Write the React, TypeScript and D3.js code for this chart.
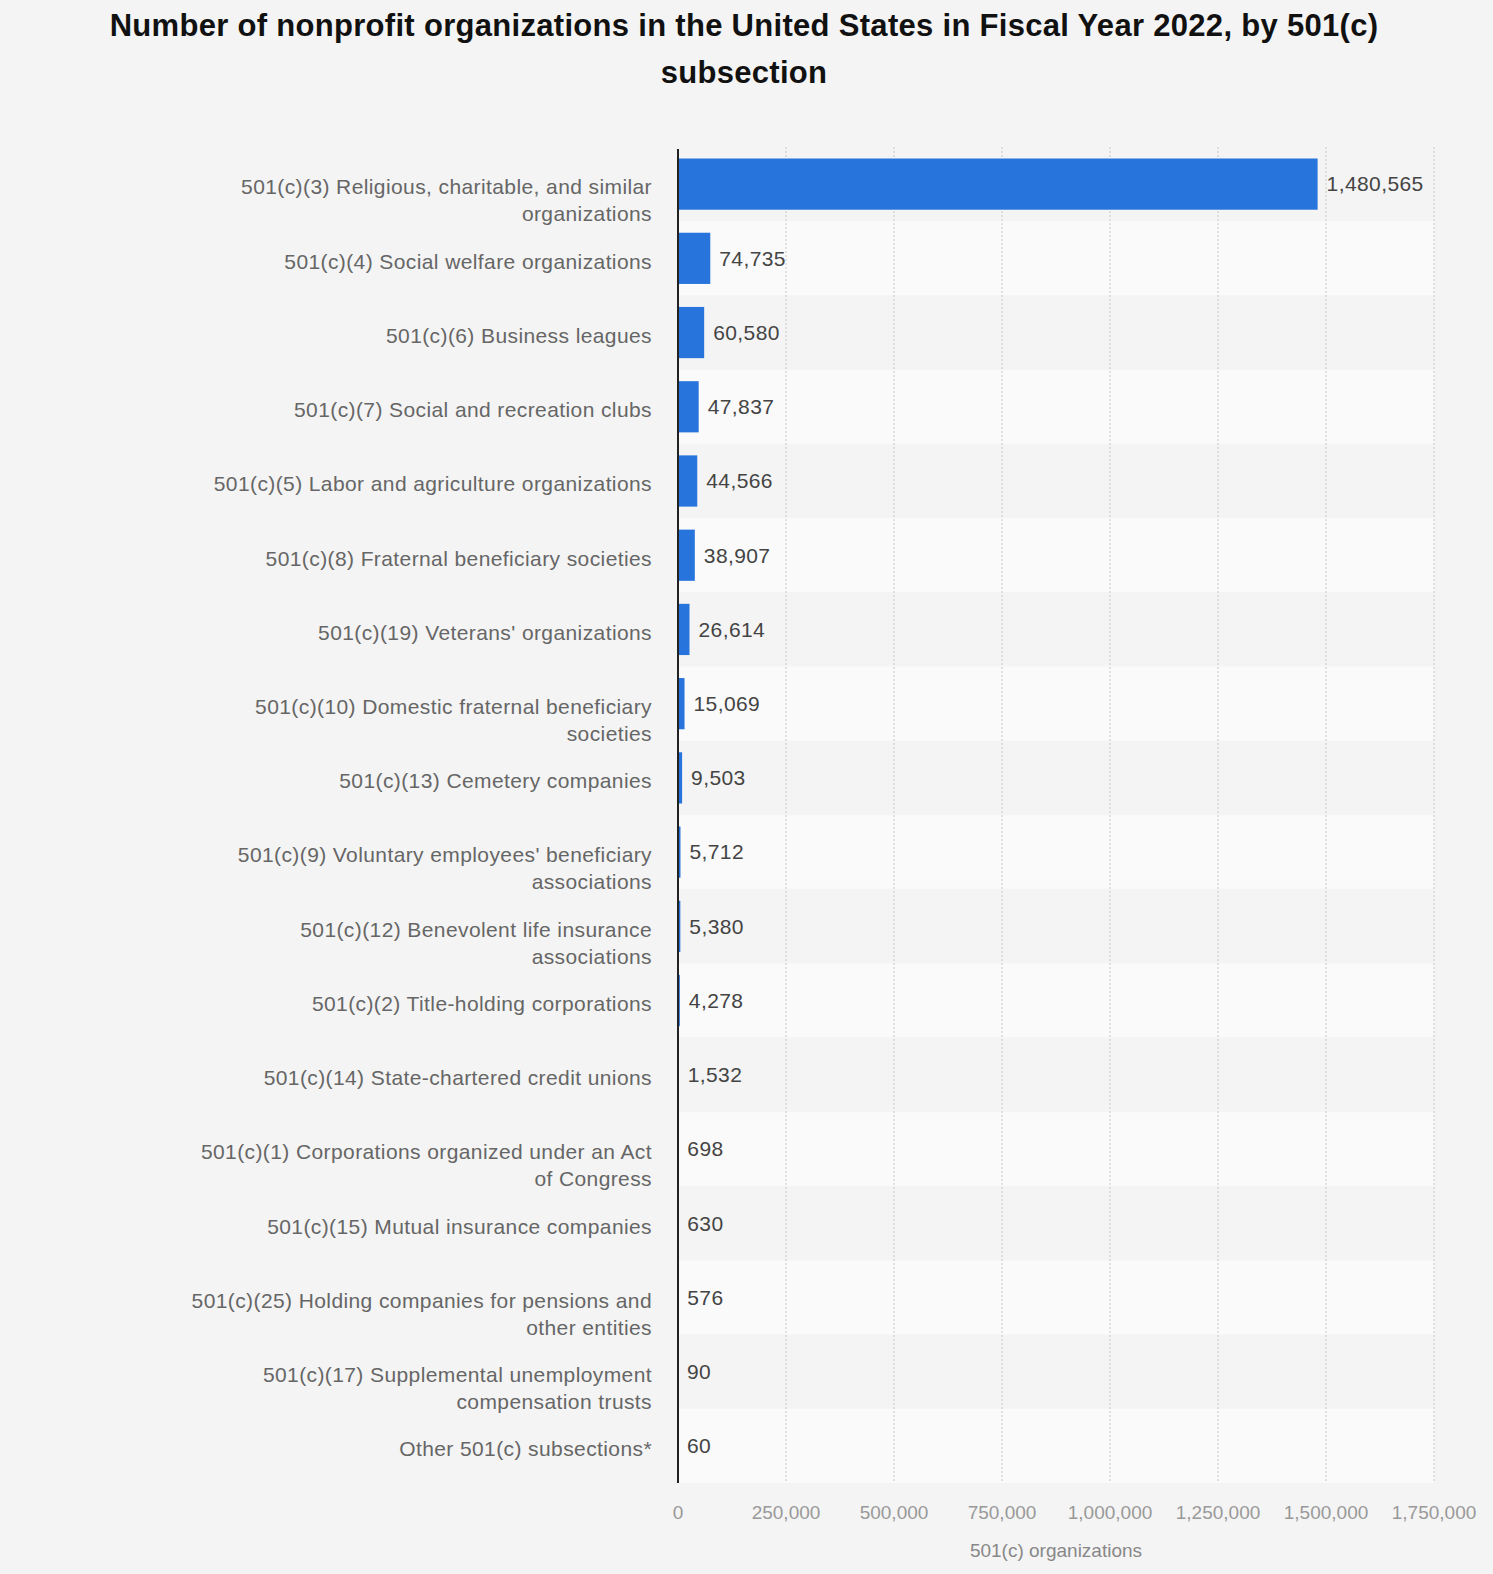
import React from "react";
import * as d3 from "d3";

const categories = [
  "501(c)(3) Religious, charitable, and similar organizations",
  "501(c)(4) Social welfare organizations",
  "501(c)(6) Business leagues",
  "501(c)(7) Social and recreation clubs",
  "501(c)(5) Labor and agriculture organizations",
  "501(c)(8) Fraternal beneficiary societies",
  "501(c)(19) Veterans' organizations",
  "501(c)(10) Domestic fraternal beneficiary societies",
  "501(c)(13) Cemetery companies",
  "501(c)(9) Voluntary employees' beneficiary associations",
  "501(c)(12) Benevolent life insurance associations",
  "501(c)(2) Title-holding corporations",
  "501(c)(14) State-chartered credit unions",
  "501(c)(1) Corporations organized under an Act of Congress",
  "501(c)(15) Mutual insurance companies",
  "501(c)(25) Holding companies for pensions and other entities",
  "501(c)(17) Supplemental unemployment compensation trusts",
  "Other 501(c) subsections*",
];

const organizations = [
  1480565, 74735, 60580, 47837, 44566, 38907, 26614, 15069, 9503, 5712, 5380,
  4278, 1532, 698, 630, 576, 90, 60,
];

const xTicks = [0, 250000, 500000, 750000, 1000000, 1250000, 1500000, 1750000];

const titleLines = [
  "Number of nonprofit organizations in the United States in Fiscal Year 2022, by 501(c)",
  "subsection",
];
const axisTitle = "501(c) organizations";

const W = 1493;
const H = 1574;
const FONT = "'Liberation Sans', Arial, sans-serif";
const LABEL_SIZE = 21;
const LABEL_LS = 0.4;
const LABEL_MAX = 468;

// break a label into lines no wider than LABEL_MAX
function wrap(text: string): string[] {
  const ctx = document.createElement("canvas").getContext("2d")!;
  ctx.font = `${LABEL_SIZE}px 'Liberation Sans'`;
  const width = (s: string) => ctx.measureText(s).width + s.length * LABEL_LS;
  const words = text.split(" ");
  const lines: string[] = [];
  let cur = "";
  words.forEach((w) => {
    const test = cur ? cur + " " + w : w;
    if (width(test) > LABEL_MAX && cur) {
      lines.push(cur);
      cur = w;
    } else {
      cur = test;
    }
  });
  if (cur) lines.push(cur);
  return lines;
}

export default function App() {
  const x = d3.scaleLinear().domain([0, 1750000]).range([678, 1434]);
  const y = d3
    .scaleBand<string>()
    .domain(categories)
    .range([147, 1483])
    .paddingInner(0.31)
    .paddingOuter(0.155);
  const step = y.step();
  const fmt = d3.format(",");

  return (
    <div style={{ position: "absolute", left: 0, top: 0 }}>
      <svg width={W} height={H} style={{ display: "block" }} fontFamily={FONT}>
        <rect width={W} height={H} fill="#f4f4f4" />

        {titleLines.map((t, i) => (
          <text
            key={i}
            x={744}
            y={25 + i * 47}
            dy="0.35em"
            textAnchor="middle"
            fontSize={31}
            fontWeight="bold"
            letterSpacing={0.3}
            fill="#111"
          >
            {t}
          </text>
        ))}

        {/* stripes */}
        {categories.map((c, i) => (
          <rect
            key={c}
            x={x(0)}
            y={y(c)! - (step * 0.31) / 2}
            width={x(1750000) - x(0)}
            height={step}
            fill={i % 2 ? "#fafafa" : "#f4f4f4"}
          />
        ))}

        {/* grid */}
        {xTicks.slice(1).map((t) => (
          <line
            key={t}
            x1={x(t)}
            x2={x(t)}
            y1={147}
            y2={1483}
            stroke="#c8c8c8"
            strokeDasharray="2,2"
          />
        ))}

        {/* bars */}
        {categories.map((c, i) => (
          <rect
            key={c}
            x={x(0)}
            y={y(c)}
            width={x(organizations[i]) - x(0)}
            height={y.bandwidth()}
            fill="#2774dc"
          />
        ))}

        {/* value labels */}
        {categories.map((c, i) => (
          <text
            key={c}
            x={x(organizations[i]) + 9}
            y={y(c)! + y.bandwidth() / 2}
            dy="0.35em"
            fontSize={21}
            letterSpacing={0.4}
            fill="#444"
          >
            {fmt(organizations[i])}
          </text>
        ))}

        {/* category labels */}
        {categories.map((c) => (
          <text
            key={c}
            x={652}
            y={y(c)! + y.bandwidth() / 2 + 3}
            textAnchor="end"
            fontSize={LABEL_SIZE}
            letterSpacing={LABEL_LS}
            fill="#666"
          >
            {wrap(c).map((l, j) => (
              <tspan key={j} x={652} dy={j === 0 ? "0.35em" : 27}>
                {l}
              </tspan>
            ))}
          </text>
        ))}

        <line x1={x(0)} x2={x(0)} y1={149} y2={1483} stroke="#222" strokeWidth={2} />

        {/* x axis */}
        {xTicks.map((t) => (
          <text
            key={t}
            x={x(t)}
            y={1512}
            dy="0.35em"
            textAnchor="middle"
            fontSize={19}
            fill="#999"
          >
            {fmt(t)}
          </text>
        ))}
        <text
          x={(x(0) + x(1750000)) / 2}
          y={1550}
          dy="0.35em"
          textAnchor="middle"
          fontSize={19}
          fill="#888"
        >
          {axisTitle}
        </text>
      </svg>
    </div>
  );
}
